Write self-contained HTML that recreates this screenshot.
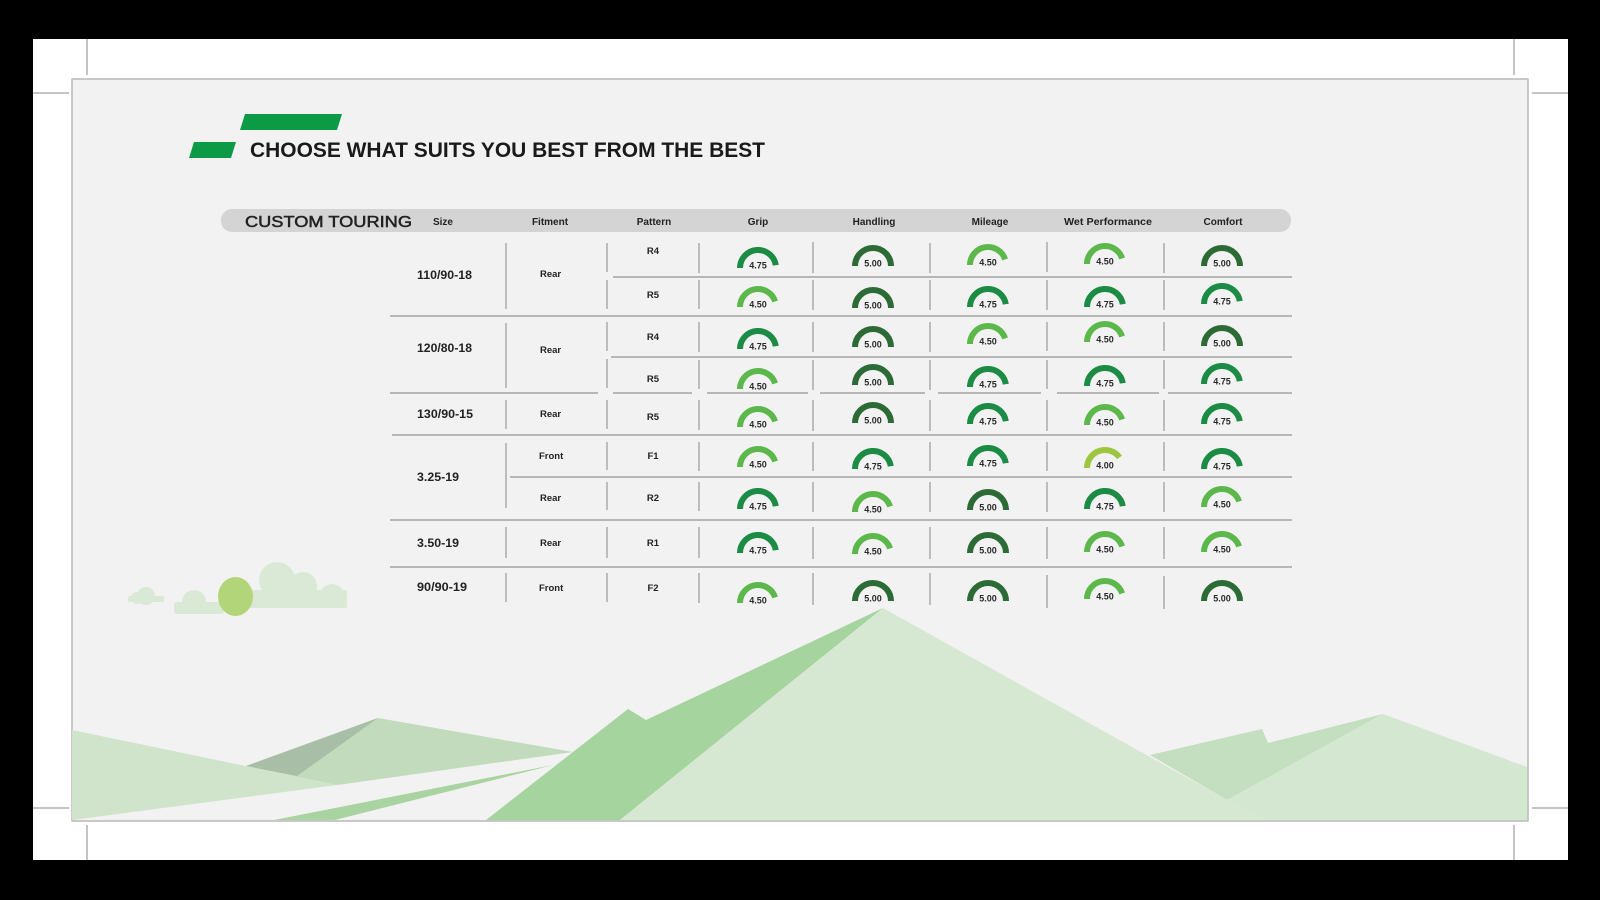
<!DOCTYPE html>
<html><head><meta charset="utf-8"><style>
html,body{margin:0;padding:0;background:#000;}
svg{display:block;}
text{font-family:"Liberation Sans",Arial,sans-serif;fill:#222;}
.h{font-size:10px;font-weight:bold;text-anchor:middle;}
.s{font-size:12px;font-weight:bold;}
.f{font-size:9.5px;font-weight:bold;}
.p{font-size:9.5px;font-weight:bold;text-anchor:middle;}
.v{font-size:9px;font-weight:bold;text-anchor:middle;fill:#2a2a2a;}
.a{fill:none;stroke-width:6;}
.c5{stroke:#2c6b35}.c475{stroke:#1c8b43}.c450{stroke:#5cb84b}.c400{stroke:#9cc63f}
</style></head><body>
<svg width="1600" height="900" viewBox="0 0 1600 900" xmlns="http://www.w3.org/2000/svg">
<defs>
<path id="g500" d="M-18 0 A18 18 0 0 1 18 0"/>
<path id="g475" d="M-18 0 A18 18 0 0 1 17.78 -2.82"/>
<path id="g450" d="M-18 0 A18 18 0 0 1 17.12 -5.56"/>
<path id="g400" d="M-18 0 A18 18 0 0 1 14.56 -10.58"/>
</defs>
<rect x="0" y="0" width="1600" height="900" fill="#000"/>
<rect x="33" y="39" width="1535" height="821" fill="#fff"/>
<!-- crop marks -->
<g stroke="#8a8a8a" stroke-width="1">
<line x1="87" y1="39" x2="87" y2="75"/>
<line x1="33" y1="93" x2="69" y2="93"/>
<line x1="1514" y1="39" x2="1514" y2="75"/>
<line x1="1532" y1="93" x2="1568" y2="93"/>
<line x1="33" y1="808" x2="69" y2="808"/>
<line x1="87" y1="825" x2="87" y2="860"/>
<line x1="1532" y1="808" x2="1568" y2="808"/>
<line x1="1514" y1="825" x2="1514" y2="860"/>
</g>
<!-- panel -->
<rect x="72" y="79" width="1456" height="742" fill="#f2f2f2" stroke="#b8b8b8" stroke-width="1.5"/>

<!-- scenery -->
<g>
<polygon points="72,730 337,785 72,820" fill="#cfe4cb"/>
<polygon points="246,766 378,718 573,752 337,785" fill="#c1dbbc"/>
<polygon points="246,766 378,718 297,776" fill="#a9bea6"/>
<polygon points="274,820 553,765 335,820" fill="#a9d4a1"/>
<polygon points="1150,755 1262,729 1268,743 1383,714 1227,800" fill="#c3dfbf"/>
<polygon points="1227,800 1383,714 1527,767 1527,820 1263,820" fill="#d4e7d0"/>
<polygon points="486,820 628,709 646,720 883,608 620,820" fill="#a6d49f"/>
<polygon points="883,608 1263,820 620,820" fill="#d6e8d2"/>
</g>
<!-- clouds & sun -->
<g fill="#d9e9d6">
<circle cx="146" cy="596" r="9"/>
<circle cx="137" cy="598" r="6"/>
<rect x="128" y="596" width="36" height="6" rx="2"/>
<circle cx="194" cy="602" r="12"/>
<rect x="174" y="602" width="50" height="12" rx="3"/>
<circle cx="277" cy="580" r="18"/>
<circle cx="303" cy="586" r="14"/>
<circle cx="332" cy="596" r="12"/>
<rect x="250" y="590" width="97" height="18" rx="2"/>
</g>
<ellipse cx="235.5" cy="596.5" rx="17.5" ry="19.5" fill="#b3d57a"/>

<!-- title -->
<polygon points="245,114 342,114 337,130 240,130" fill="#0c9a46"/>
<polygon points="194,142 236,142 231,158 189,158" fill="#0c9a46"/>
<text x="250" y="157" font-size="21" font-weight="bold" textLength="515" lengthAdjust="spacingAndGlyphs" style="fill:#1a1a1a">CHOOSE WHAT SUITS YOU BEST FROM THE BEST</text>

<!-- header bar -->
<rect x="221" y="209" width="1070" height="23" rx="11" fill="#d4d4d4"/>
<text x="245" y="227" font-size="15.5" textLength="167" lengthAdjust="spacingAndGlyphs" stroke="#222" stroke-width="0.5">CUSTOM TOURING</text>
<text class="h" x="443" y="225">Size</text>
<text class="h" x="550" y="225">Fitment</text>
<text class="h" x="654" y="225">Pattern</text>
<text class="h" x="758" y="225">Grip</text>
<text class="h" x="874" y="225">Handling</text>
<text class="h" x="990" y="225">Mileage</text>
<text class="h" x="1108" y="225" textLength="88" lengthAdjust="spacingAndGlyphs">Wet Performance</text>
<text class="h" x="1223" y="225">Comfort</text>

<!-- horizontal separators -->
<g stroke="#a3a3a3" stroke-width="1.5">
<line x1="613" y1="277" x2="1292" y2="277"/>
<line x1="390" y1="316" x2="1292" y2="316"/>
<line x1="611" y1="357" x2="1292" y2="357"/>
<line x1="390" y1="393" x2="598" y2="393"/>
<line x1="613" y1="393" x2="692" y2="393"/>
<line x1="707" y1="393" x2="808" y2="393"/>
<line x1="820" y1="393" x2="925" y2="393"/>
<line x1="938" y1="393" x2="1041" y2="393"/>
<line x1="1057" y1="393" x2="1159" y2="393"/>
<line x1="1168" y1="393" x2="1292" y2="393"/>
<line x1="392" y1="435" x2="1292" y2="435"/>
<line x1="510" y1="477" x2="1292" y2="477"/>
<line x1="390" y1="520" x2="1292" y2="520"/>
<line x1="390" y1="567" x2="1292" y2="567"/>
</g>

<!-- vertical separators -->
<g stroke="#ababab" stroke-width="1.5">
<line x1="506" y1="243" x2="506" y2="309"/>
<line x1="506" y1="323" x2="506" y2="388"/>
<line x1="506" y1="400" x2="506" y2="429"/>
<line x1="506" y1="443" x2="506" y2="508"/>
<line x1="506" y1="527" x2="506" y2="558"/>
<line x1="506" y1="573" x2="506" y2="602"/>
<line x1="607" y1="243" x2="607" y2="272"/>
<line x1="607" y1="280" x2="607" y2="309"/>
<line x1="607" y1="322" x2="607" y2="351"/>
<line x1="607" y1="359" x2="607" y2="388"/>
<line x1="607" y1="400" x2="607" y2="429"/>
<line x1="607" y1="442" x2="607" y2="470"/>
<line x1="607" y1="482" x2="607" y2="510"/>
<line x1="607" y1="527" x2="607" y2="558"/>
<line x1="607" y1="573" x2="607" y2="602"/>
</g>
<g stroke="#ababab" stroke-width="1.5" id="vl">
<line x1="699" y1="243" x2="699" y2="273"/><line x1="813" y1="242" x2="813" y2="273"/><line x1="930" y1="243" x2="930" y2="273"/><line x1="1047" y1="242" x2="1047" y2="272"/><line x1="1164" y1="243" x2="1164" y2="273"/>
<line x1="699" y1="280" x2="699" y2="309"/><line x1="813" y1="280" x2="813" y2="310"/><line x1="930" y1="280" x2="930" y2="310"/><line x1="1047" y1="280" x2="1047" y2="310"/><line x1="1164" y1="280" x2="1164" y2="310"/>
<line x1="699" y1="322" x2="699" y2="352"/><line x1="813" y1="322" x2="813" y2="352"/><line x1="930" y1="322" x2="930" y2="352"/><line x1="1047" y1="322" x2="1047" y2="351"/><line x1="1164" y1="322" x2="1164" y2="351"/>
<line x1="699" y1="360" x2="699" y2="389"/><line x1="813" y1="360" x2="813" y2="390"/><line x1="930" y1="360" x2="930" y2="390"/><line x1="1047" y1="360" x2="1047" y2="389"/><line x1="1164" y1="360" x2="1164" y2="389"/>
<line x1="699" y1="400" x2="699" y2="430"/><line x1="813" y1="400" x2="813" y2="431"/><line x1="930" y1="400" x2="930" y2="431"/><line x1="1047" y1="400" x2="1047" y2="431"/><line x1="1164" y1="400" x2="1164" y2="431"/>
<line x1="699" y1="442" x2="699" y2="471"/><line x1="813" y1="442" x2="813" y2="471"/><line x1="930" y1="442" x2="930" y2="471"/><line x1="1047" y1="442" x2="1047" y2="471"/><line x1="1164" y1="442" x2="1164" y2="471"/>
<line x1="699" y1="482" x2="699" y2="511"/><line x1="813" y1="482" x2="813" y2="512"/><line x1="930" y1="482" x2="930" y2="512"/><line x1="1047" y1="482" x2="1047" y2="512"/><line x1="1164" y1="482" x2="1164" y2="512"/>
<line x1="699" y1="527" x2="699" y2="558"/><line x1="813" y1="527" x2="813" y2="559"/><line x1="930" y1="527" x2="930" y2="559"/><line x1="1047" y1="527" x2="1047" y2="559"/><line x1="1164" y1="527" x2="1164" y2="559"/>
<line x1="699" y1="573" x2="699" y2="603"/><line x1="813" y1="573" x2="813" y2="605"/><line x1="930" y1="573" x2="930" y2="605"/><line x1="1047" y1="575" x2="1047" y2="608"/><line x1="1164" y1="576" x2="1164" y2="609"/>
</g>

<!-- size labels -->
<text class="s" x="417" y="279" textLength="55" lengthAdjust="spacingAndGlyphs">110/90-18</text>
<text class="s" x="417" y="352" textLength="55" lengthAdjust="spacingAndGlyphs">120/80-18</text>
<text class="s" x="417" y="418" textLength="56" lengthAdjust="spacingAndGlyphs">130/90-15</text>
<text class="s" x="417" y="481" textLength="42" lengthAdjust="spacingAndGlyphs">3.25-19</text>
<text class="s" x="417" y="547" textLength="42" lengthAdjust="spacingAndGlyphs">3.50-19</text>
<text class="s" x="417" y="591" textLength="50" lengthAdjust="spacingAndGlyphs">90/90-19</text>

<!-- fitment -->
<text class="f" x="540" y="277">Rear</text>
<text class="f" x="540" y="353">Rear</text>
<text class="f" x="540" y="417">Rear</text>
<text class="f" x="539" y="459">Front</text>
<text class="f" x="540" y="501">Rear</text>
<text class="f" x="540" y="546">Rear</text>
<text class="f" x="539" y="591">Front</text>

<!-- pattern -->
<text class="p" x="653" y="254">R4</text>
<text class="p" x="653" y="298">R5</text>
<text class="p" x="653" y="340">R4</text>
<text class="p" x="653" y="382">R5</text>
<text class="p" x="653" y="420">R5</text>
<text class="p" x="653" y="459">F1</text>
<text class="p" x="653" y="501">R2</text>
<text class="p" x="653" y="546">R1</text>
<text class="p" x="653" y="591">F2</text>

<!-- gauges -->
<!-- row 1 -->
<g transform="translate(758,268)"><use href="#g475" class="a c475"/><text class="v" y="0.5">4.75</text></g>
<g transform="translate(873,266)"><use href="#g500" class="a c5"/><text class="v" y="0.5">5.00</text></g>
<g transform="translate(988,265)"><use href="#g450" class="a c450"/><text class="v" y="0.5">4.50</text></g>
<g transform="translate(1105,264)"><use href="#g450" class="a c450"/><text class="v" y="0.5">4.50</text></g>
<g transform="translate(1222,266)"><use href="#g500" class="a c5"/><text class="v" y="0.5">5.00</text></g>
<!-- row 2 -->
<g transform="translate(758,307)"><use href="#g450" class="a c450"/><text class="v" y="0.5">4.50</text></g>
<g transform="translate(873,308)"><use href="#g500" class="a c5"/><text class="v" y="0.5">5.00</text></g>
<g transform="translate(988,307)"><use href="#g475" class="a c475"/><text class="v" y="0.5">4.75</text></g>
<g transform="translate(1105,307)"><use href="#g475" class="a c475"/><text class="v" y="0.5">4.75</text></g>
<g transform="translate(1222,304)"><use href="#g475" class="a c475"/><text class="v" y="0.5">4.75</text></g>
<!-- row 3 -->
<g transform="translate(758,349)"><use href="#g475" class="a c475"/><text class="v" y="0.5">4.75</text></g>
<g transform="translate(873,347)"><use href="#g500" class="a c5"/><text class="v" y="0.5">5.00</text></g>
<g transform="translate(988,344)"><use href="#g450" class="a c450"/><text class="v" y="0.5">4.50</text></g>
<g transform="translate(1105,342)"><use href="#g450" class="a c450"/><text class="v" y="0.5">4.50</text></g>
<g transform="translate(1222,346)"><use href="#g500" class="a c5"/><text class="v" y="0.5">5.00</text></g>
<!-- row 4 -->
<g transform="translate(758,389)"><use href="#g450" class="a c450"/><text class="v" y="0.5">4.50</text></g>
<g transform="translate(873,385)"><use href="#g500" class="a c5"/><text class="v" y="0.5">5.00</text></g>
<g transform="translate(988,387)"><use href="#g475" class="a c475"/><text class="v" y="0.5">4.75</text></g>
<g transform="translate(1105,386)"><use href="#g475" class="a c475"/><text class="v" y="0.5">4.75</text></g>
<g transform="translate(1222,384)"><use href="#g475" class="a c475"/><text class="v" y="0.5">4.75</text></g>
<!-- row 5 -->
<g transform="translate(758,427)"><use href="#g450" class="a c450"/><text class="v" y="0.5">4.50</text></g>
<g transform="translate(873,423)"><use href="#g500" class="a c5"/><text class="v" y="0.5">5.00</text></g>
<g transform="translate(988,424)"><use href="#g475" class="a c475"/><text class="v" y="0.5">4.75</text></g>
<g transform="translate(1105,425)"><use href="#g450" class="a c450"/><text class="v" y="0.5">4.50</text></g>
<g transform="translate(1222,424)"><use href="#g475" class="a c475"/><text class="v" y="0.5">4.75</text></g>
<!-- row 6 -->
<g transform="translate(758,467)"><use href="#g450" class="a c450"/><text class="v" y="0.5">4.50</text></g>
<g transform="translate(873,469)"><use href="#g475" class="a c475"/><text class="v" y="0.5">4.75</text></g>
<g transform="translate(988,466)"><use href="#g475" class="a c475"/><text class="v" y="0.5">4.75</text></g>
<g transform="translate(1105,468)"><use href="#g400" class="a c400"/><text class="v" y="0.5">4.00</text></g>
<g transform="translate(1222,469)"><use href="#g475" class="a c475"/><text class="v" y="0.5">4.75</text></g>
<!-- row 7 -->
<g transform="translate(758,509)"><use href="#g475" class="a c475"/><text class="v" y="0.5">4.75</text></g>
<g transform="translate(873,512)"><use href="#g450" class="a c450"/><text class="v" y="0.5">4.50</text></g>
<g transform="translate(988,510)"><use href="#g500" class="a c5"/><text class="v" y="0.5">5.00</text></g>
<g transform="translate(1105,509)"><use href="#g475" class="a c475"/><text class="v" y="0.5">4.75</text></g>
<g transform="translate(1222,507)"><use href="#g450" class="a c450"/><text class="v" y="0.5">4.50</text></g>
<!-- row 8 -->
<g transform="translate(758,553)"><use href="#g475" class="a c475"/><text class="v" y="0.5">4.75</text></g>
<g transform="translate(873,554)"><use href="#g450" class="a c450"/><text class="v" y="0.5">4.50</text></g>
<g transform="translate(988,553)"><use href="#g500" class="a c5"/><text class="v" y="0.5">5.00</text></g>
<g transform="translate(1105,552)"><use href="#g450" class="a c450"/><text class="v" y="0.5">4.50</text></g>
<g transform="translate(1222,552)"><use href="#g450" class="a c450"/><text class="v" y="0.5">4.50</text></g>
<!-- row 9 -->
<g transform="translate(758,603)"><use href="#g450" class="a c450"/><text class="v" y="0.5">4.50</text></g>
<g transform="translate(873,601)"><use href="#g500" class="a c5"/><text class="v" y="0.5">5.00</text></g>
<g transform="translate(988,601)"><use href="#g500" class="a c5"/><text class="v" y="0.5">5.00</text></g>
<g transform="translate(1105,599)"><use href="#g450" class="a c450"/><text class="v" y="0.5">4.50</text></g>
<g transform="translate(1222,601)"><use href="#g500" class="a c5"/><text class="v" y="0.5">5.00</text></g>
</svg>
</body></html>
